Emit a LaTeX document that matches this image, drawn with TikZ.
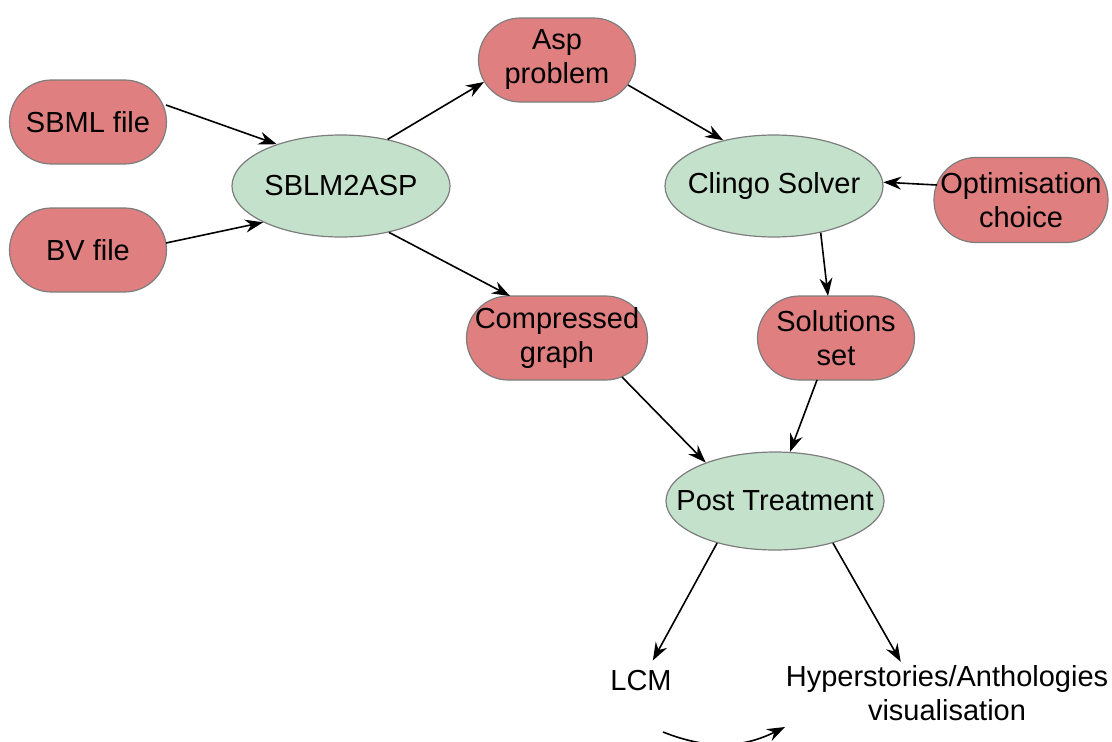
\documentclass[tikz,border=0pt]{standalone}
\usepackage{fontspec}
\setmainfont{Liberation Sans}
\usetikzlibrary{arrows.meta,shapes.geometric}
\definecolor{datared}{RGB}{224,127,127}
\definecolor{toolgreen}{RGB}{196,226,203}
\definecolor{rim}{RGB}{125,125,125}
% label of fixed-size ellipses: no width of its own, so the shape keeps its size
\newcommand\toollabel[1]{\makebox[0pt]{#1}}
\begin{document}
\begin{tikzpicture}[x=1pt,y=1pt,
  every node/.style={font=\fontsize{29}{34}\selectfont, align=center},
  data/.style={rectangle, rounded corners=42pt, draw=rim, line width=1.2pt,
    fill=datared, minimum width=157pt, minimum height=84pt, inner sep=0pt},
  tool/.style={ellipse, draw=rim, line width=1.2pt, fill=toolgreen,
    minimum width=218pt, minimum height=102pt, inner sep=0pt},
  link/.style={-{Stealth[length=18pt,width=13pt,inset=6pt]}, line width=1.6pt, black}]
\useasboundingbox (0,0) rectangle (1112,-742);

% inputs and intermediate data
\node[data] (sbml) at (88,-122) {SBML file};
\node[data] (bv) at (88,-250) {BV file};
\node[data] (asp) at (557,-60) {Asp\\problem};
\node[data, minimum width=174pt, minimum height=85pt] (optim) at (1021,-200) {Optimisation\\choice};
\node[data] (sol) at (836,-338) {Solutions\\set};
\node[data, minimum width=181pt] (graph) at (557,-338) {Compressed\\graph};

% processing steps
\node[tool] (conv) at (341,-186) {\toollabel{SBLM2ASP}};
\node[tool] (clingo) at (774,-186) {\toollabel{Clingo Solver}};
\node[tool, minimum height=98pt] (post) at (775,-501) {\toollabel{Post Treatment}};

% outputs
\node[inner sep=10pt] (lcm) at (641,-681) {LCM};
\node (hyp) at (947,-693) {Hyperstories/Anthologies\\visualisation};

% flow
\draw[link] ([shift={(78,17)}]sbml.center) -- (conv.147);
\draw[link] ([shift={(78,7)}]bv.center) -- (conv.205);
\draw[link] (conv.45) -- ([shift={(-73,-22)}]asp.center);
\draw[link] (conv.-44) -- ([shift={(-47,42)}]graph.center);
\draw[link] ([shift={(71,-25)}]asp.center) -- (clingo.138);
\draw[link] ([shift={(-84,15)}]optim.center) -- (clingo.2);
\draw[link] (clingo.-45) -- ([shift={(-8,42)}]sol.center);
\draw[link] ([shift={(65,-39)}]graph.center) -- (post.151);
\draw[link] ([shift={(-19,-42)}]sol.center) -- (post.73);
\draw[link] (post.216) -- (lcm.60);
\draw[link] (post.-36) -- (hyp.146);

% loop below the outputs
\coordinate (loopA) at (663,-732);
\coordinate (loopB) at (785,-727);
\draw[link] (loopA) to[bend right=24] (loopB);
\end{tikzpicture}
\end{document}
